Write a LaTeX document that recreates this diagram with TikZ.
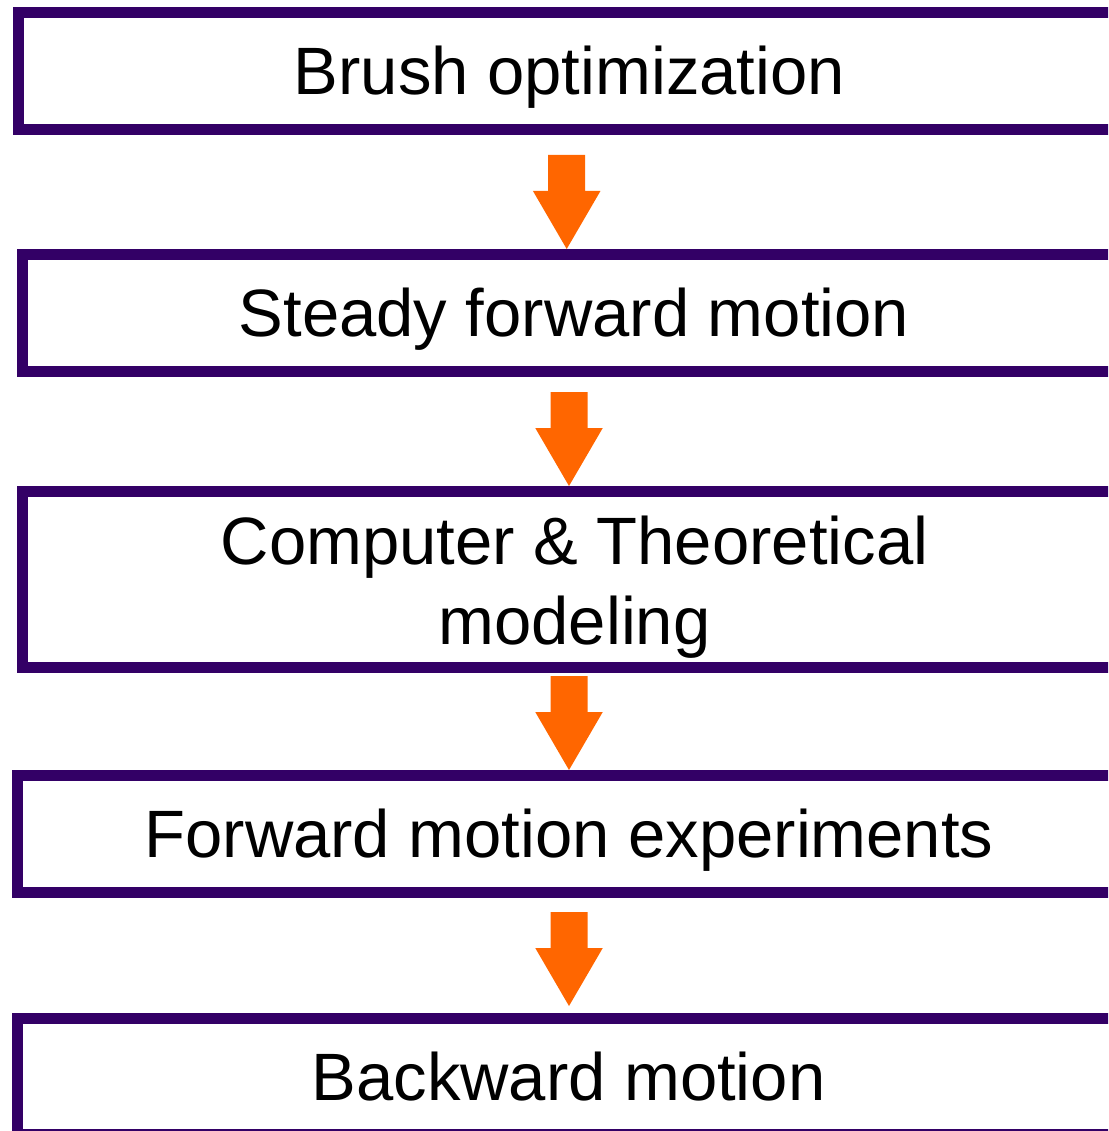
\documentclass[tikz,border=0pt]{standalone}
\usepackage{fontspec}
\usetikzlibrary{calc}
\setmainfont{Liberation Sans}
\definecolor{boxpurple}{HTML}{330066}
\definecolor{arroworange}{HTML}{FF6600}
\tikzset{
  flowbox/.style={draw=boxpurple, fill=white, line width=11pt, rectangle, inner sep=0pt,
    text height=47pt, text depth=0pt, font=\fontsize{67}{80}\selectfont},
  boxtext/.style={inner sep=0pt, anchor=base, font=\fontsize{67}{80}\selectfont},
  arrowfill/.style={fill=arroworange}
}
\newcommand{\flowarrow}[1]{%
  \fill[arrowfill] (#1) -- ++(33.75,-58) -- ++(-15.25,0) -- ++(0,-36) -- ++(-37,0)
    -- ++(0,36) -- ++(-15.25,0) -- cycle;}
\begin{document}
\begin{tikzpicture}[x=1pt, y=-1pt]
\useasboundingbox (0,0) rectangle (1108,1131);
\clip (0,0) rectangle (1108,1131);
\node[flowbox, minimum width=1102pt, minimum height=117pt] (b1) at (569.5,71) {Brush optimization};
\node[flowbox, minimum width=1103pt, minimum height=117pt] (b2) at (574,313) {Steady forward motion};
\node[flowbox, minimum width=1104pt, minimum height=176pt] (b3) at (574.5,579.5) {};
\node[boxtext] (b3a) at (574.5,564) {Computer \& Theoretical};
\node[boxtext] (b3b) at (574.5,644) {modeling};
\node[flowbox, minimum width=1103pt, minimum height=117pt] (b4) at (569,834) {Forward motion experiments};
\node[flowbox, minimum width=1102pt, minimum height=116pt] (b5) at (568.5,1076.5) {Backward motion};
\coordinate (t1) at (566.7,0 |- b2.north);
\coordinate (t2) at (569,0 |- b3.north);
\coordinate (t3) at (569,0 |- b4.north);
\coordinate (t4) at ($(569,0 |- b5.north)+(0,-7)$);
\flowarrow{t1}
\flowarrow{t2}
\flowarrow{t3}
\flowarrow{t4}
\end{tikzpicture}
\end{document}
